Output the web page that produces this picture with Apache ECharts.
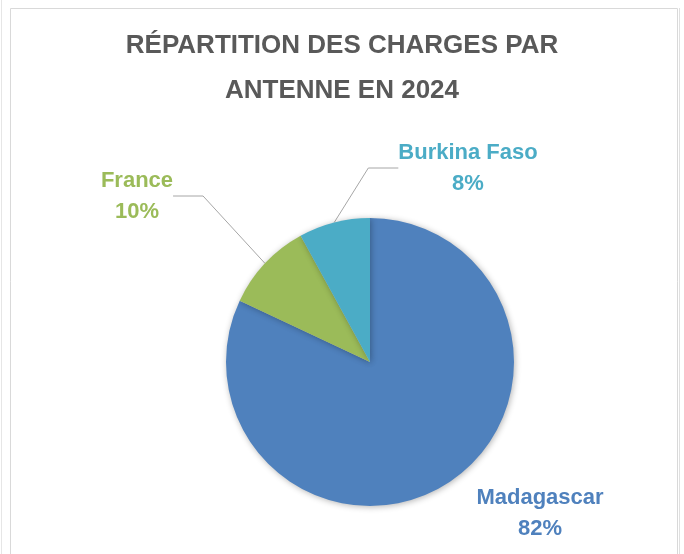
<!DOCTYPE html>
<html>
<head>
<meta charset="utf-8">
<script src="https://cdn.jsdelivr.net/npm/echarts@6/dist/echarts.min.js"></script>
<style>
  html, body { margin: 0; padding: 0; background: #fff; }
  #chart { width: 684px; height: 554px; }
</style>
</head>
<body>
<div id="chart"></div>
<script>
// données (en %)
const antennes = ['Madagascar', 'France', 'Burkina Faso'];
const parts = [82, 10, 8];
const couleurs = ['#4F81BD', '#9BBB59', '#4BACC6'];

// position des étiquettes (centre du texte)
const labelPos = [
    { x: 540, y: 513 },
    { x: 137, y: 196 },
    { x: 468, y: 168 },
];

const chart = echarts.init(document.getElementById('chart'));

const option = {
    animation: false,
    title: {
        text: 'RÉPARTITION DES CHARGES PAR\nANTENNE EN 2024',
        left: 'center',
        top: 18,
        textStyle: {
            fontFamily: 'Liberation Sans',
            fontSize: 26,
            fontWeight: 'bold',
            color: '#595959',
            lineHeight: 45,
        },
    },
    graphic: [
        { type: 'rect', shape: { x: 10.5, y: 8.5, width: 667, height: 560 }, style: { fill: 'none', stroke: '#D9D9D9', lineWidth: 1 }, silent: true },
        { type: 'line', shape: { x1: 1.5, y1: 0, x2: 1.5, y2: 554 }, style: { stroke: '#E6E6E6', lineWidth: 1 }, silent: true },
        { type: 'line', shape: { x1: 679.5, y1: 8, x2: 679.5, y2: 554 }, style: { stroke: '#E0E0E0', lineWidth: 1 }, silent: true },
    ],
    series: [
        {
            type: 'pie',
            center: [370, 362],
            radius: 144,
            startAngle: 90,
            clockwise: true,
            data: antennes.map((name, i) => ({
                name,
                value: parts[i],
                itemStyle: { color: couleurs[i] },
                label: { color: couleurs[i] },
                labelLine: { show: i !== 0 },
            })),
            itemStyle: {
                shadowBlur: 6,
                shadowColor: 'rgba(0,0,0,0.3)',
                shadowOffsetX: 1,
                shadowOffsetY: 1,
            },
            label: {
                show: true,
                position: 'outside',
                formatter: (p) => `${p.name}\n${p.value}%`,
                fontFamily: 'Liberation Sans',
                fontSize: 22,
                fontWeight: 'bold',
                lineHeight: 31,
                align: 'center',
            },
            labelLine: {
                show: true,
                lineStyle: { color: '#A6A6A6', width: 1 },
            },
            labelLayout: (params) => ({
                x: labelPos[params.dataIndex].x,
                y: labelPos[params.dataIndex].y,
                align: 'center',
                verticalAlign: 'middle',
            }),
        },
    ],
};

chart.setOption(option);
</script>
</body>
</html>
